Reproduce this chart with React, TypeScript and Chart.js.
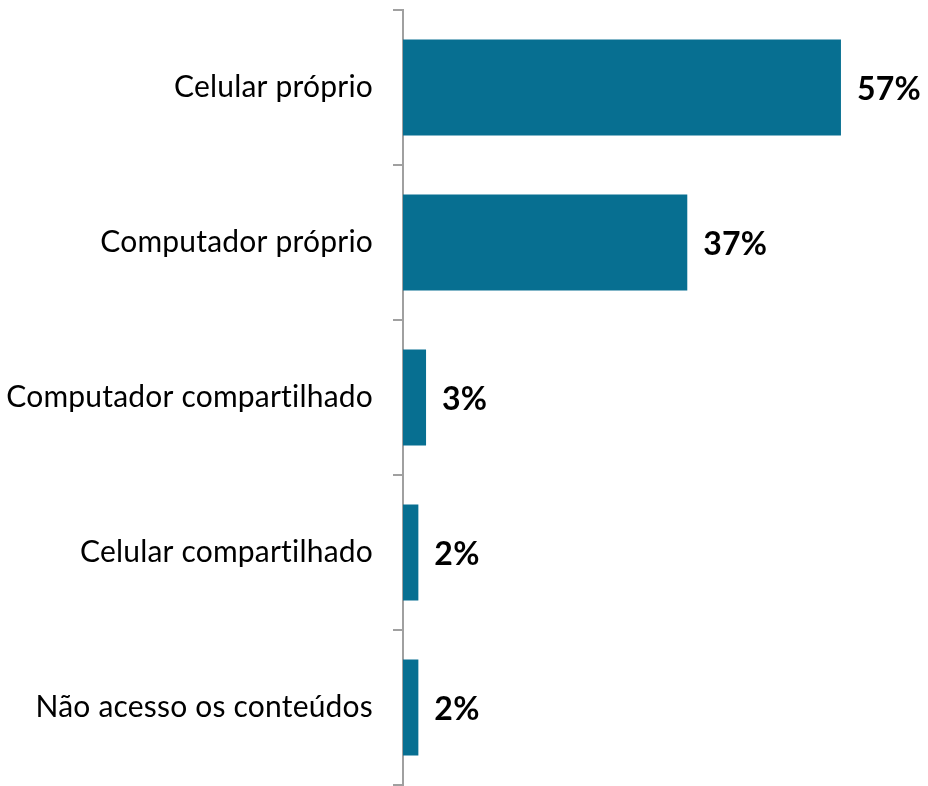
import React, { useEffect, useRef } from "react";
import { Chart, registerables } from "chart.js";

Chart.register(...registerables);

const categories = [
  "Celular próprio",
  "Computador próprio",
  "Computador compartilhado",
  "Celular compartilhado",
  "Não acesso os conteúdos",
];
const values = [57, 37, 3, 2, 2];
const valueLabels = ["57%", "37%", "3%", "2%", "2%"];

const noLigaturePlugin = {
  id: "noLigature",
  beforeDraw(chart: any) {
    try {
      chart.ctx.letterSpacing = "0.2px";
    } catch (e) {}
  },
};

const labelPlugin = {
  id: "barLabels",
  afterDatasetsDraw(chart: any) {
    const { ctx } = chart;
    const meta = chart.getDatasetMeta(0);
    ctx.save();
    ctx.font = "bold 32px Lato";
    ctx.fillStyle = "#000";
    ctx.textAlign = "left";
    ctx.textBaseline = "middle";
    meta.data.forEach((bar: any, i: number) => {
      ctx.fillText(valueLabels[i], bar.x + 16, bar.y + 2);
    });
    ctx.restore();
  },
};

export default function App() {
  const ref = useRef<HTMLCanvasElement>(null);
  useEffect(() => {
    const chart = new Chart(ref.current!, {
      type: "bar",
      data: {
        labels: categories,
        datasets: [
          {
            data: values,
            backgroundColor: "#076f91",
            categoryPercentage: 1,
            barPercentage: 0.62,
          },
        ],
      },
      options: {
        indexAxis: "y",
        animation: false,
        responsive: false,
        maintainAspectRatio: false,
        layout: { padding: { top: 10, bottom: 1, right: 64, left: 0 } },
        plugins: { legend: { display: false }, tooltip: { enabled: false } },
        scales: {
          x: { display: false, min: 0, max: 60 },
          y: {
            afterFit(scale: any) {
              scale.width = 403;
              scale.paddingTop = 0;
              scale.paddingBottom = 0;
            },
            grid: {
              display: true,
              offset: true,
              drawOnChartArea: false,
              drawTicks: true,
              tickLength: 10,
              color: "#a0a0a0",
              lineWidth: 2,
            },
            border: { display: true, color: "#a0a0a0", width: 2 },
            ticks: {
              color: "#000",
              padding: 20,
              font: { family: "Lato", size: 30 },
            },
          },
        },
      },
      plugins: [noLigaturePlugin, labelPlugin],
    });
    return () => chart.destroy();
  }, []);
  return (
    <div style={{ position: "absolute", left: 0, top: 0, width: 928, height: 786 }}>
      <canvas ref={ref} width={928} height={786} />
    </div>
  );
}
